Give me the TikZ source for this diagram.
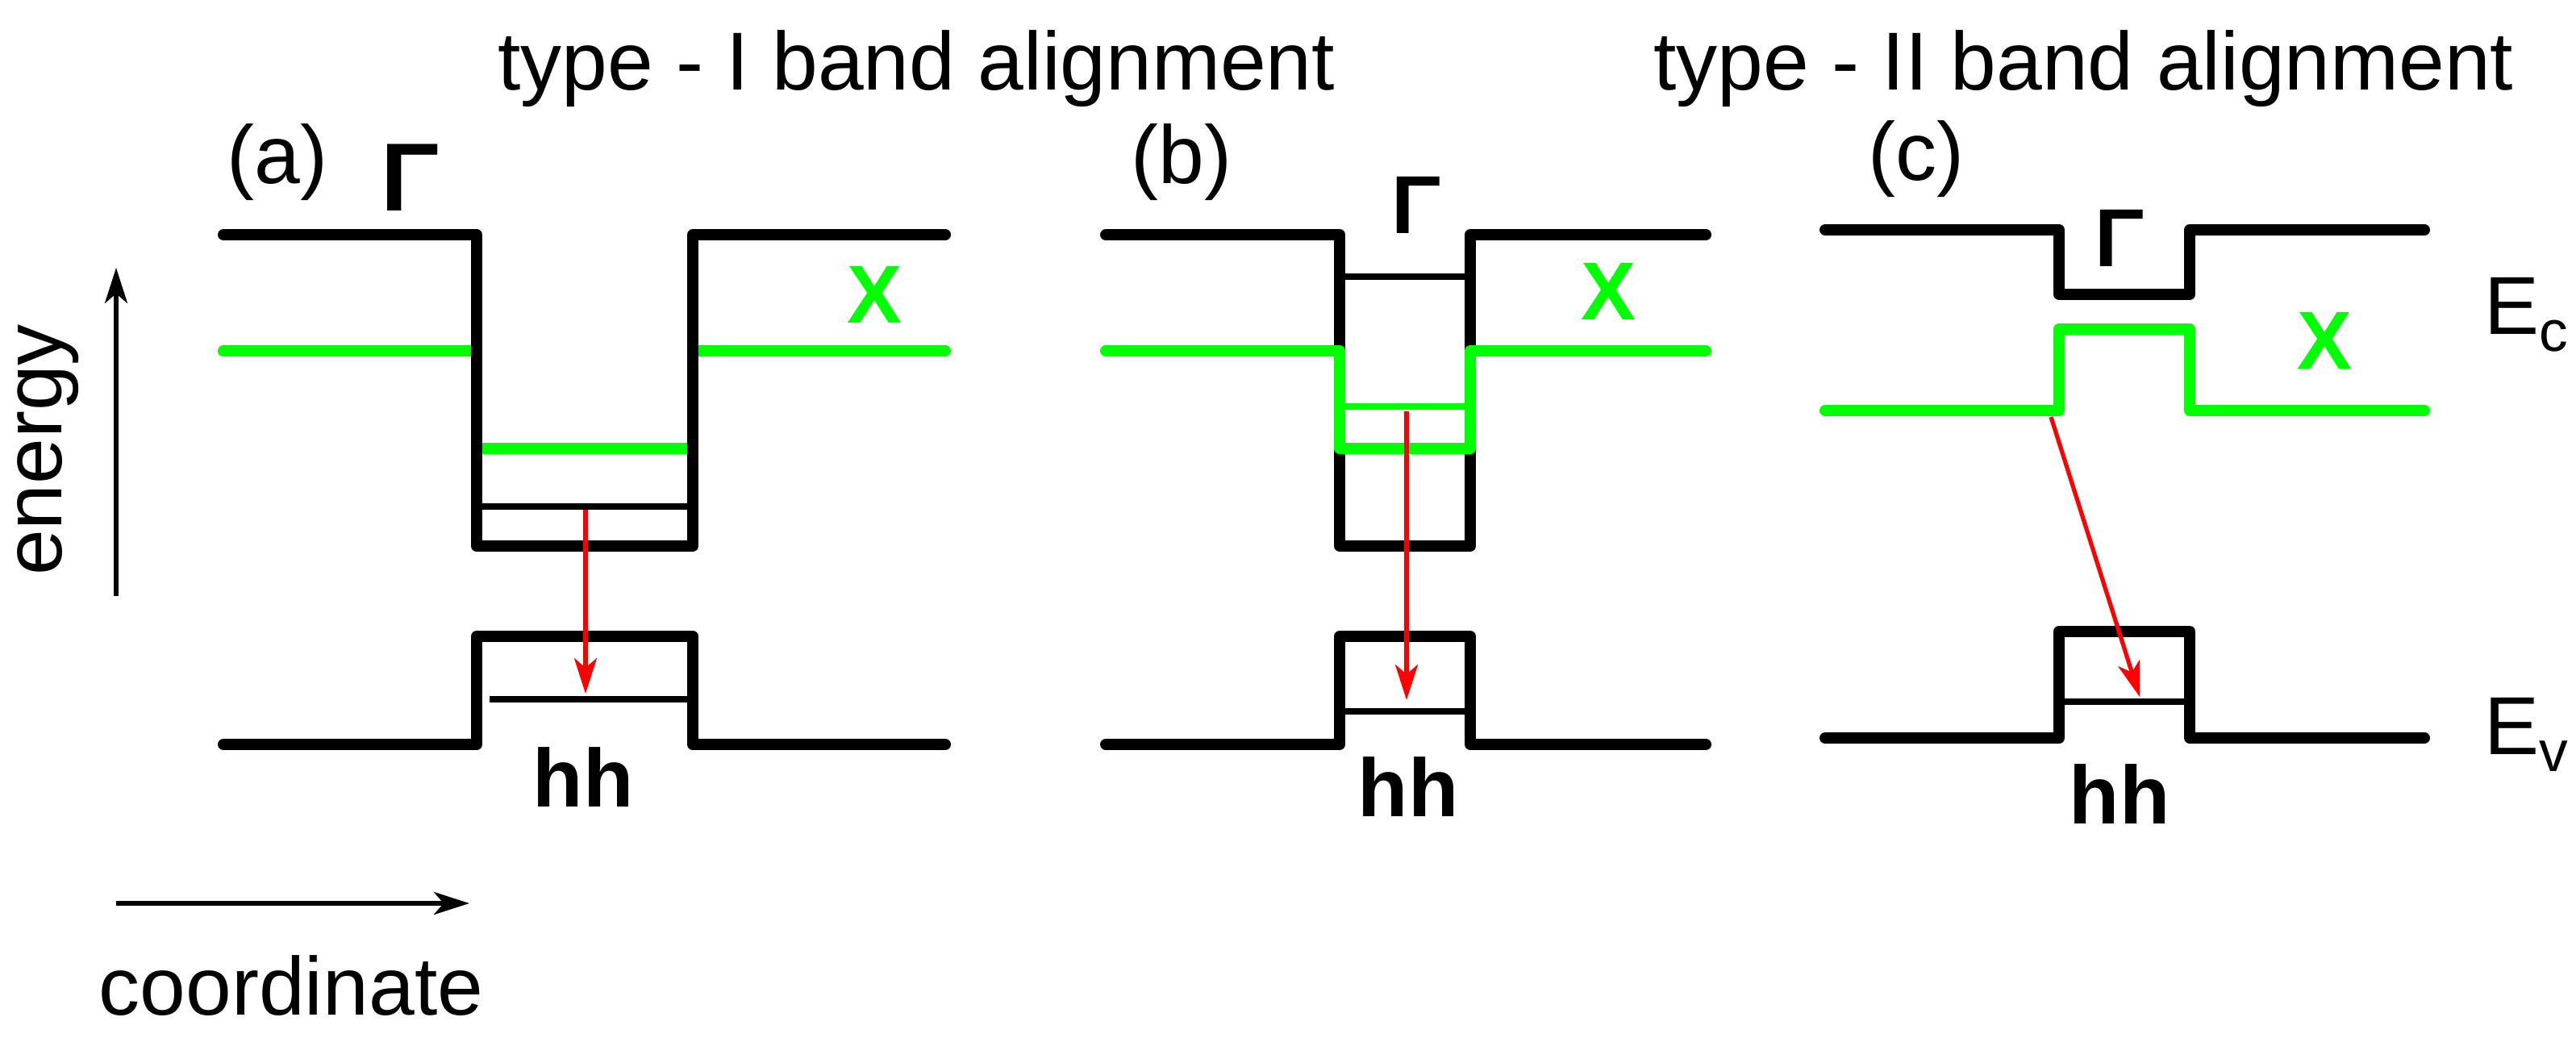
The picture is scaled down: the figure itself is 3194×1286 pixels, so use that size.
\documentclass[tikz,border=0pt]{standalone}
\usepackage{fontspec}
\setmainfont{Liberation Sans}
\usetikzlibrary{arrows.meta}
\begin{document}
\begin{tikzpicture}[x=0.5pt,y=-0.5pt,
  band/.style={line width=7pt,line join=round,line cap=round},
  thin/.style={line width=4pt},
  gr/.style={band,draw={rgb,255:red,0;green,255;blue,0}},
  red/.style={line width=2.6pt,draw={rgb,255:red,255;green,0;blue,0},-{Stealth[length=22pt,width=14pt,inset=6pt]}},
  ax/.style={line width=2.6pt,-{Stealth[length=22pt,width=14pt,inset=6pt]}},
  txt/.style={font=\fontsize{51}{60}\selectfont,inner sep=0pt},
  btxt/.style={font=\fontsize{51}{60}\selectfont\bfseries,inner sep=0pt},
  gx/.style={btxt,text={rgb,255:red,0;green,255;blue,0}}]
\useasboundingbox (0,0) rectangle (3194,1286);
% titles
\node[txt,anchor=base west] (t1) at (617,111) {type - I band alignment};
\node[txt,anchor=base west] (t2) at (2050,111) {type - II band alignment};
% axes
\coordinate (e0) at (144,739); \coordinate (e1) at (144,332);
\draw[ax] (e0) -- (e1);
\node[txt,rotate=90] (en) at (60,558) {energy};
\coordinate (c0) at (144,1120); \coordinate (c1) at (582,1120);
\draw[ax] (c0) -- (c1);
\node[txt] (co) at (361,1222) {coordinate};
% panel a
\draw[gr] (277,435) -- (591,435) (859,435) -- (1172,435);
\draw[gr] (591,556) -- (859,556);
\draw[thin] (591,628) -- (859,628);
\draw[band] (277,291) -- (591,291) -- (591,677) -- (859,677) -- (859,291) -- (1172,291);
\draw[band] (277,923) -- (591,923) -- (591,789) -- (859,789) -- (859,923) -- (1172,923);
\draw[thin] (607,867) -- (859,867);
\coordinate (ra0) at (726,632); \coordinate (ra1) at (726,860);
\draw[red] (ra0) -- (ra1);
\node[txt] (la) at (344,201) {(a)};
\node[btxt,font=\fontsize{60}{70}\selectfont\bfseries] (ga) at (509,220) {Γ};
\node[gx] (xa) at (1085,365) {X};
\node[btxt] (ha) at (723,964) {hh};
% panel b
\draw[band] (1371,291) -- (1661,291) -- (1661,677) -- (1823,677) -- (1823,291) -- (2115,291);
\draw[thin] (1661,343) -- (1823,343);
\draw[gr] (1371,435) -- (1661,435) -- (1661,556) -- (1823,556) -- (1823,435) -- (2115,435);
\draw[line width=4pt,draw={rgb,255:red,0;green,255;blue,0}] (1661,504) -- (1823,504);
\draw[band] (1371,923) -- (1661,923) -- (1661,789) -- (1823,789) -- (1823,923) -- (2115,923);
\draw[thin] (1661,882) -- (1823,882);
\coordinate (rb0) at (1744,510); \coordinate (rb1) at (1744,868);
\draw[red] (rb0) -- (rb1);
\node[txt] (lb) at (1465,201) {(b)};
\node[btxt] (gb) at (1756,254) {Γ};
\node[gx] (xb) at (1994,361) {X};
\node[btxt] (hb) at (1746,976) {hh};
% panel c
\draw[band] (2263,285) -- (2553,285) -- (2553,365) -- (2715,365) -- (2715,285) -- (3006,285);
\draw[gr] (2263,509) -- (2553,509) -- (2553,408) -- (2715,408) -- (2715,509) -- (3006,509);
\draw[band] (2263,915) -- (2553,915) -- (2553,783) -- (2715,783) -- (2715,915) -- (3006,915);
\draw[thin] (2553,870) -- (2715,870);
\coordinate (rc0) at (2543,517); \coordinate (rc1) at (2653,864);
\draw[red] (rc0) -- (rc1);
\node[txt] (lc) at (2376,197) {(c)};
\node[btxt] (gc) at (2628,295) {Γ};
\node[gx] (xc) at (2882,422) {X};
\node[btxt] (hc) at (2628,985) {hh};
\node[txt,anchor=west] (ec) at (3080,390) {E$_\mathrm{c}$};
\node[txt,anchor=west] (ev) at (3080,911) {E$_\mathrm{v}$};
\end{tikzpicture}
\end{document}
